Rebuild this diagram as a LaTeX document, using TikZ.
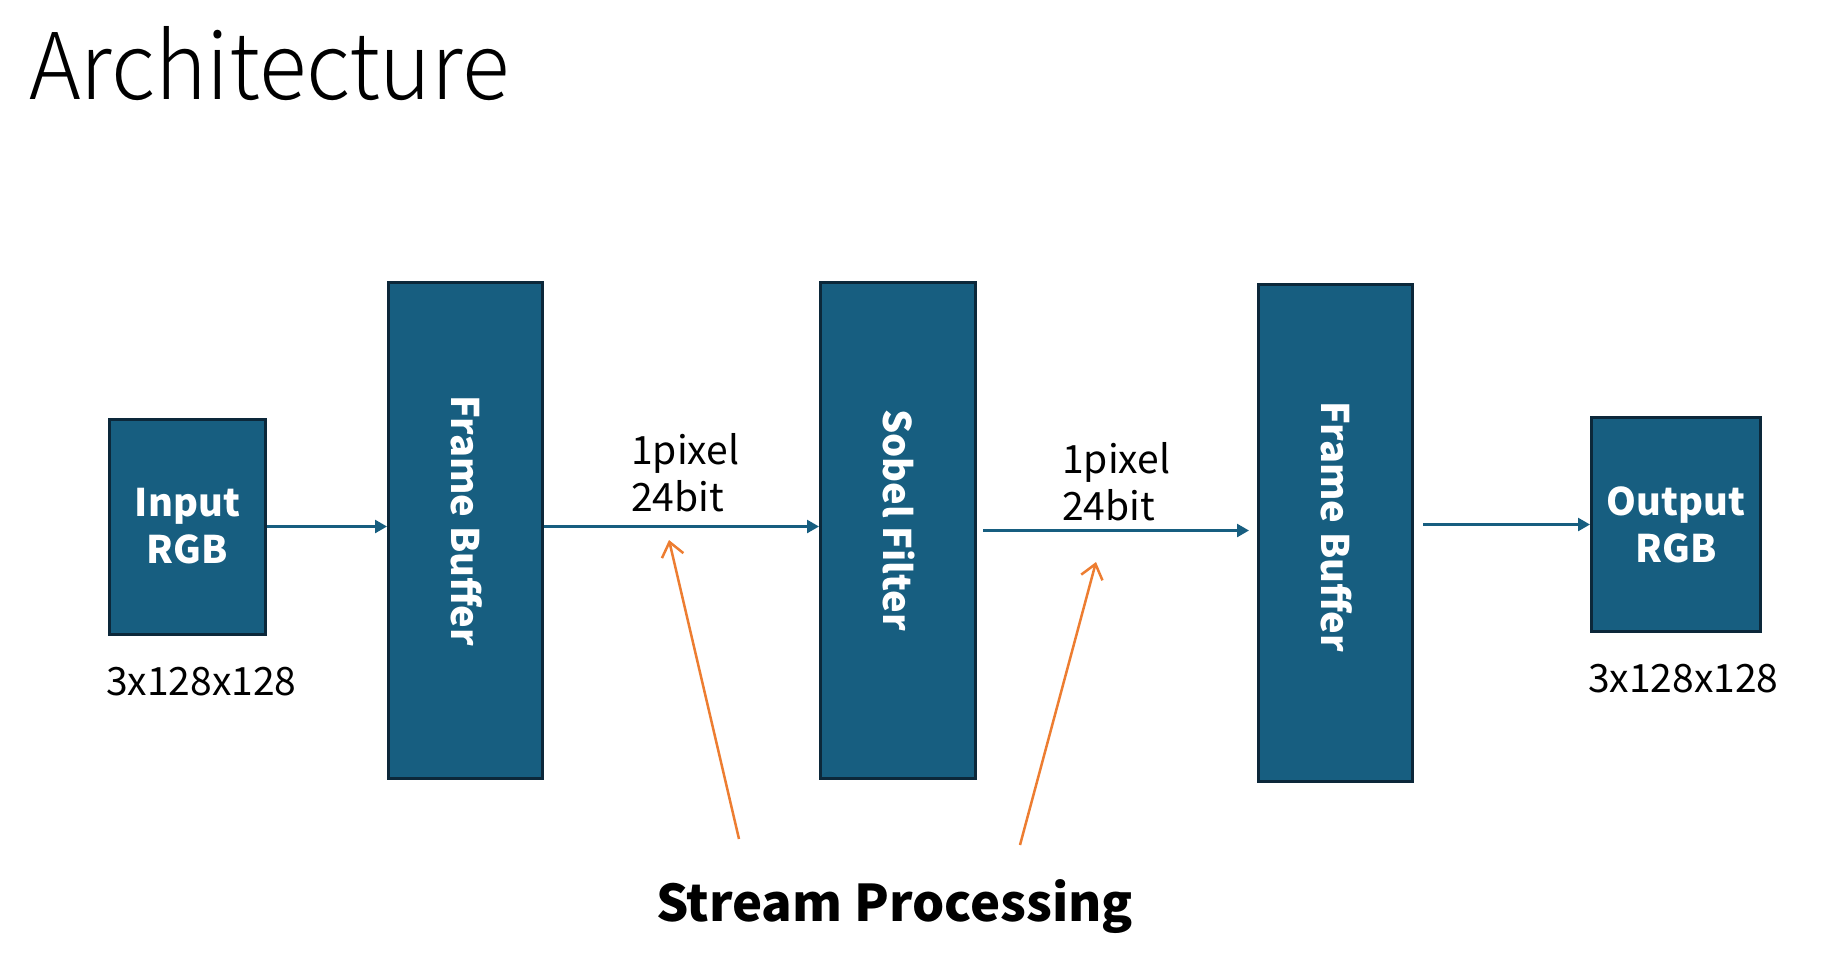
\documentclass[tikz,border=0pt]{standalone}
\usepackage{fontspec}
\usetikzlibrary{arrows.meta}
\IfFontExistsTF{Noto Sans CJK JP}{\setmainfont{Noto Sans CJK JP}}{\setmainfont{Noto Sans}}
\IfFontExistsTF{Noto Sans CJK JP Light}{\newfontfamily\titlefont{Noto Sans CJK JP Light}}{\newfontfamily\titlefont{Noto Sans CJK JP}}
\definecolor{boxc}{RGB}{23,94,128}
\definecolor{bordc}{RGB}{12,40,58}
\definecolor{arrc}{RGB}{23,94,128}
\definecolor{orc}{RGB}{237,125,49}
\begin{document}
\begin{tikzpicture}[x=1pt,y=-1pt,
  blk/.style={draw=bordc, line width=3pt, fill=boxc, inner sep=0pt},
  flow/.style={draw=arrc, line width=2.5pt, -{Triangle[length=12pt,width=13pt]}},
  note/.style={draw=orc, line width=2.5pt, -{Straight Barb[length=14pt,width=22pt]}},
  lbl/.style={font=\fontsize{39}{47}\selectfont, inner sep=0pt},
  boxtxt/.style={text=white, font=\bfseries\fontsize{38}{47}\selectfont, align=center, inner sep=0pt}]
\useasboundingbox[fill=white] (0,0) rectangle (1828,956);

\node[anchor=base west, inner sep=0pt] (title) at (29,99) {\resizebox{480pt}{73pt}{\titlefont Architecture}};

\node[blk, minimum width=156pt, minimum height=215pt] (in) at (187.5,526.5) {};
\node[boxtxt] (intxt) at (in.center) {Input\\RGB};
\node[blk, minimum width=154pt, minimum height=496pt] (fb1) at (465.5,530.5) {};
\node[boxtxt, rotate=-90] (fb1t) at (467,521) {Frame Buffer};
\node[blk, minimum width=155pt, minimum height=496pt] (sob) at (898,530.5) {};
\node[boxtxt, rotate=-90] (sobt) at (899,520) {Sobel Filter};
\node[blk, minimum width=154pt, minimum height=497pt] (fb2) at (1335.5,533) {};
\node[boxtxt, rotate=-90] (fb2t) at (1337,527) {Frame Buffer};
\node[blk, minimum width=169pt, minimum height=214pt] (out) at (1676,524.5) {};
\node[boxtxt] (outtxt) at (out.center) {Output\\RGB};

\node[lbl, anchor=base west] (l1a) at (631,464) {1pixel};
\node[lbl, anchor=base west] (l1b) at (631,511) {24bit};
\node[lbl, anchor=base west] (l2a) at (1062,473) {1pixel};
\node[lbl, anchor=base west] (l2b) at (1062,520) {24bit};
\node[lbl, anchor=base west] (d1) at (106,695) {3x128x128};
\node[lbl, anchor=base west] (d2) at (1588,692) {3x128x128};

\draw[flow] (in.east) -- (in.east -| fb1.west);
\draw[flow] (fb1.east |- in.east) -- (sob.west |- in.east);
\draw[flow, shorten <=6pt, shorten >=8pt] (sob.east) -- (fb2.west |- sob.east);
\draw[flow, shorten <=9pt] (fb2.east |- out.west) -- (out.west);

\coordinate (p1) at (739,839);
\coordinate (q1) at (669,540);
\coordinate (p2) at (1020,845);
\coordinate (q2) at (1096,562);
\draw[note] (p1) -- (q1);
\draw[note] (p2) -- (q2);

\node[anchor=base, inner sep=0pt] (sp) at (894.5,921) {\resizebox{477pt}{42pt}{\bfseries Stream Processing}};
\end{tikzpicture}
\end{document}
